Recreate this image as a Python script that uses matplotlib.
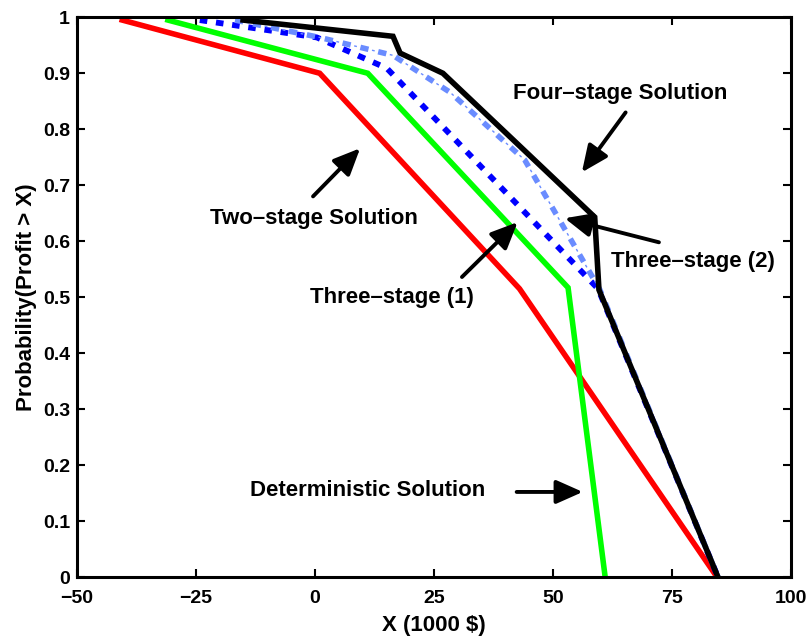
import matplotlib
matplotlib.use("Agg")
import matplotlib.pyplot as plt

plt.rcParams['font.family'] = ['Liberation Sans', 'DejaVu Sans']
plt.rcParams['font.weight'] = 'bold'

# Deterministic solution
det_x = [-40.5, 1.0, 43.0, 84.5]
det_y = [0.995, 0.900, 0.515, 0.0]
# Two-stage solution
two_x = [-30.9, 11.1, 53.2, 61.0]
two_y = [0.995, 0.900, 0.517, 0.0]
# Three-stage (1)
th1_x = [-24.2, 0.4, 15.1, 59.5, 84.7]
th1_y = [0.995, 0.964, 0.909, 0.515, 0.0]
# Three-stage (2)
th2_x = [-16.8, 1.0, 16.4, 28.4, 44.1, 59.9, 84.7]
th2_y = [0.995, 0.964, 0.932, 0.866, 0.745, 0.513, 0.0]
# Four-stage solution
four_x = [-15.1, 16.4, 17.9, 26.9, 58.8, 59.7, 84.7]
four_y = [0.995, 0.966, 0.936, 0.900, 0.643, 0.513, 0.0]

xticks = [-50, -25, 0, 25, 50, 75, 100]
yticks = [0, 0.1, 0.2, 0.3, 0.4, 0.5, 0.6, 0.7, 0.8, 0.9, 1]
ytick_labels = ['0', '0.1', '0.2', '0.3', '0.4', '0.5', '0.6', '0.7', '0.8', '0.9', '1']

fig = plt.figure(figsize=(8.11, 6.40), dpi=100)
ax = fig.add_axes([0.095, 0.0984, 0.880, 0.8746])

lblue = '#6a8cff'
ax.plot(det_x, det_y, color='#ff0000', lw=4.0, zorder=2, solid_joinstyle='miter')
ax.plot(two_x, two_y, color='#00ff00', lw=4.0, zorder=2.1, solid_joinstyle='miter')
ax.plot(th1_x, th1_y, color='#0000ff', lw=4.2, zorder=2.2,
        linestyle=(0, (1.3, 1.5)), dash_capstyle='butt')
ax.plot(th2_x, th2_y, color=lblue, lw=4.0, zorder=2.3,
        linestyle=(0, (1.5, 1.8)), dash_capstyle='butt')
ax.plot(th2_x, th2_y, color=lblue, lw=1.0, zorder=2.3,
        linestyle=(4.6, (2.0, 11.2)), dash_capstyle='butt')
ax.plot(four_x, four_y, color='black', lw=4.0, zorder=2.4, solid_joinstyle='miter')

ax.set_xlim(-50, 100)
ax.set_ylim(0, 1)
ax.set_xticks(xticks)
ax.set_yticks(yticks)
ax.set_yticklabels(ytick_labels)
ax.tick_params(direction='in', length=6, width=1.5, labelsize=14,
               top=True, right=True)
ax.tick_params(axis='x', pad=9)
ax.tick_params(axis='y', pad=5)
for lab in ax.get_xticklabels() + ax.get_yticklabels():
    lab.set_fontweight('bold')
for sp in ax.spines.values():
    sp.set_linewidth(2.2)

ax.set_xlabel('X (1000 $)', fontsize=16, fontweight='bold', labelpad=6)
ax.set_ylabel('Probability(Profit > X)', fontsize=16, fontweight='bold', labelpad=4)

tfs = 16
ax.text(64.1, 0.864, 'Four\u2013stage Solution', fontsize=tfs, fontweight='bold',
        ha='center', va='center')
ax.text(-0.3, 0.641, 'Two\u2013stage Solution', fontsize=tfs, fontweight='bold',
        ha='center', va='center')
ax.text(79.4, 0.564, 'Three\u2013stage (2)', fontsize=tfs, fontweight='bold',
        ha='center', va='center')
ax.text(16.2, 0.500, 'Three\u2013stage (1)', fontsize=tfs, fontweight='bold',
        ha='center', va='center')
ax.text(11.1, 0.154, 'Deterministic Solution', fontsize=tfs, fontweight='bold',
        ha='center', va='center')

aprops = dict(arrowstyle='-|>,head_length=0.9,head_width=0.4', lw=2.8,
              color='black', mutation_scale=18, shrinkA=0, shrinkB=0)
arrows = [((56.1, 0.723), (65.3, 0.830)),
          ((9.5, 0.766), (-0.4, 0.680)),
          ((52.5, 0.641), (72.3, 0.598)),
          ((42.6, 0.634), (30.9, 0.536)),
          ((56.3, 0.152), (42.4, 0.152))]
for tip, tail in arrows:
    ax.annotate('', xy=tip, xytext=tail, arrowprops=aprops, zorder=5)

fig.savefig('out.png', dpi=100)
